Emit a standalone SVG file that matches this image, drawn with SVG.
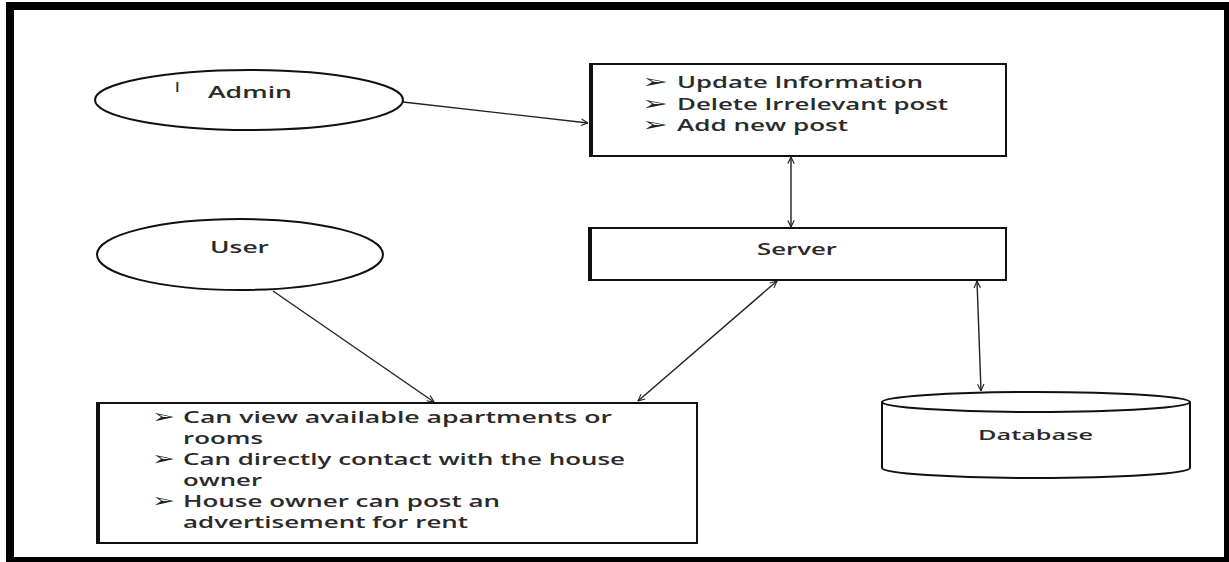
<svg xmlns="http://www.w3.org/2000/svg" width="1229" height="562" viewBox="0 0 1229 562">
<style>
.shape{fill:#fff;stroke:#111;stroke-width:2}
.edge{fill:none;stroke:#222;stroke-width:1.4}
.t{font-family:"Open Sans","Liberation Sans",sans-serif;fill:#2a2a2a;font-weight:600}
.b{font-family:"DejaVu Sans",sans-serif;fill:#222;}
</style>
<defs>
<marker id="ah" viewBox="0 0 10 10" refX="9.5" refY="5" markerWidth="8" markerHeight="8" orient="auto-start-reverse" markerUnits="userSpaceOnUse">
<path d="M1,1 L9.5,5 L1,9" fill="none" stroke="#222" stroke-width="1.4"/>
</marker>
</defs>
<rect x="6" y="2" width="1223" height="560" fill="#000"/>
<rect x="14" y="10" width="1210" height="547" fill="#fff"/>

<g id="admin">
<ellipse class="shape" cx="249" cy="100" rx="154" ry="30"/>
<text class="t" x="175" y="92" font-size="15" font-weight="700">I</text>
<text class="t" x="208" y="98" font-size="16" textLength="84" lengthAdjust="spacingAndGlyphs">Admin</text>
</g>

<g id="admin-tasks">
<rect class="shape" x="590" y="64" width="416" height="92"/>
<line x1="591.5" y1="64" x2="591.5" y2="156" stroke="#111" stroke-width="3"/>
<text class="b" x="642" y="88" font-size="19" textLength="26" lengthAdjust="spacingAndGlyphs">➢</text>
<text class="t" x="677" y="88" font-size="16" textLength="246" lengthAdjust="spacingAndGlyphs">Update Information</text>
<text class="b" x="642" y="109.5" font-size="19" textLength="26" lengthAdjust="spacingAndGlyphs">➢</text>
<text class="t" x="677" y="109.5" font-size="16" textLength="271" lengthAdjust="spacingAndGlyphs">Delete Irrelevant post</text>
<text class="b" x="642" y="131" font-size="19" textLength="26" lengthAdjust="spacingAndGlyphs">➢</text>
<text class="t" x="677" y="131" font-size="16" textLength="171" lengthAdjust="spacingAndGlyphs">Add new post</text>
</g>

<g id="server">
<rect class="shape" x="589" y="228" width="417" height="52"/>
<line x1="590.5" y1="228" x2="590.5" y2="280" stroke="#111" stroke-width="3"/>
<text class="t" x="757" y="255" font-size="17" textLength="80" lengthAdjust="spacingAndGlyphs">Server</text>
</g>

<g id="user">
<ellipse class="shape" cx="240" cy="254.5" rx="143" ry="35.5"/>
<text class="t" x="210" y="253" font-size="16" textLength="59" lengthAdjust="spacingAndGlyphs">User</text>
</g>

<g id="user-tasks">
<rect class="shape" x="97" y="403" width="600" height="140"/>
<line x1="98.5" y1="403" x2="98.5" y2="543" stroke="#111" stroke-width="3"/>
<text class="b" x="152" y="423" font-size="19" textLength="23" lengthAdjust="spacingAndGlyphs">➢</text>
<text class="t" x="183" y="423" font-size="16" textLength="429" lengthAdjust="spacingAndGlyphs">Can view available apartments or</text>
<text class="t" x="183" y="443.5" font-size="16" textLength="80" lengthAdjust="spacingAndGlyphs">rooms</text>
<text class="b" x="152" y="465" font-size="19" textLength="23" lengthAdjust="spacingAndGlyphs">➢</text>
<text class="t" x="183" y="465" font-size="16" textLength="442" lengthAdjust="spacingAndGlyphs">Can directly contact with the house</text>
<text class="t" x="183" y="485.5" font-size="16" textLength="79" lengthAdjust="spacingAndGlyphs">owner</text>
<text class="b" x="152" y="507" font-size="19" textLength="23" lengthAdjust="spacingAndGlyphs">➢</text>
<text class="t" x="183" y="507" font-size="16" textLength="317" lengthAdjust="spacingAndGlyphs">House owner can post an</text>
<text class="t" x="183" y="528" font-size="16" textLength="285" lengthAdjust="spacingAndGlyphs">advertisement for rent</text>
</g>

<g id="database">
<path class="shape" d="M882,402 L882,468 A154,10 0 0 0 1190,468 L1190,402"/>
<ellipse class="shape" cx="1036" cy="402" rx="154" ry="10"/>
<text class="t" x="978" y="440" font-size="15" textLength="115" lengthAdjust="spacingAndGlyphs">Database</text>
</g>

<g id="connectors">
<line class="edge" x1="403" y1="102" x2="588" y2="123" marker-end="url(#ah)"/>
<line class="edge" x1="791" y1="157" x2="791" y2="227" marker-start="url(#ah)" marker-end="url(#ah)"/>
<line class="edge" x1="273" y1="291" x2="434" y2="402" marker-end="url(#ah)"/>
<line class="edge" x1="777" y1="281" x2="638" y2="401" marker-start="url(#ah)" marker-end="url(#ah)"/>
<line class="edge" x1="977" y1="281" x2="981" y2="391" marker-start="url(#ah)" marker-end="url(#ah)"/>
</g>
</svg>
